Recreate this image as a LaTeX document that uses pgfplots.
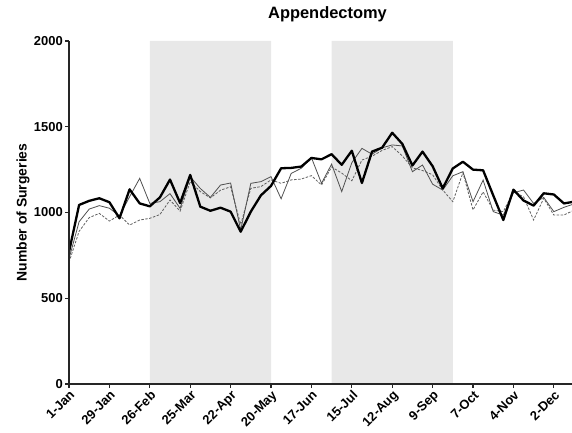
\documentclass[border=0pt]{standalone}
\usepackage{fontspec}
\setmainfont{Liberation Sans}
\usepackage{pgfplots}
\pgfplotsset{compat=1.18}
\usepackage{pgfplotstable}
\definecolor{shade}{HTML}{E8E8E8}
\definecolor{cthin}{HTML}{505050}
\definecolor{cdash}{HTML}{606060}
\pgfplotstableread{
i T S D
0 770 730 710
1 1044 946 890
2 1068 1020 970
3 1083 1040 995
4 1060 1025 950
5 966 980 985
6 1135 1092 927
7 1053 1199 956
8 1036 1053 966
9 1088 1063 988
10 1192 1110 1073
11 1055 1024 1008
12 1219 1209 1180
13 1034 1140 1122
14 1010 1088 1085
15 1028 1160 1130
16 1005 1172 1150
17 888 898 930
18 1005 1170 1141
19 1100 1180 1151
20 1155 1209 1190
21 1258 1080 1170
22 1260 1228 1190
23 1268 1258 1195
24 1318 1320 1215
25 1310 1170 1160
26 1340 1282 1265
27 1278 1122 1230
28 1360 1290 1185
29 1172 1374 1306
30 1355 1340 1328
31 1378 1377 1362
32 1465 1394 1384
33 1400 1388 1330
34 1274 1238 1260
35 1355 1277 1245
36 1270 1165 1220
37 1141 1131 1131
38 1257 1214 1063
39 1296 1238 1232
40 1250 1063 1015
41 1246 1189 1120
42 1100 1005 1014
43 956 985 1005
44 1133 1115 1121
45 1070 1131 1092
46 1040 1053 956
47 1112 1088 1083
48 1105 1005 985
49 1053 1030 985
50 1063 1050 1014
}\data
\begin{document}
\begin{tikzpicture}
\path[use as bounding box] (0,0) rectangle (572bp,433bp);
\begin{axis}[
  at={(69bp,49bp)}, anchor=south west,
  scale only axis, width=503bp, height=343bp,
  xmin=0, xmax=348.6, ymin=0, ymax=2000,
  axis x line*=bottom, axis y line*=left,
  xtick={0,28,...,336},
  xticklabels={1-Jan,29-Jan,26-Feb,25-Mar,22-Apr,20-May,17-Jun,15-Jul,12-Aug,9-Sep,7-Oct,4-Nov,2-Dec},
  ytick={0,500,1000,1500,2000},
  tick align=outside, major tick length=4bp,
  tick style={line width=1.2bp, color=black!85},
  axis line style={line width=1.3bp, color=black!85},
  xticklabel style={rotate=45, anchor=north east, font=\fontsize{13}{14}\selectfont\bfseries, inner sep=1bp},
  yticklabel style={font=\fontsize{13}{14}\selectfont\bfseries, inner sep=2bp},
  /pgf/number format/assume math mode=true,
  /pgf/number format/1000 sep={},
  axis on top,
]
\addplot[fill=shade, draw=none] coordinates {(56,0) (56,2000) (140,2000) (140,0)} \closedcycle;
\addplot[fill=shade, draw=none] coordinates {(182,0) (182,2000) (266,2000) (266,0)} \closedcycle;
\addplot[color=cdash, line width=0.8bp, dash pattern=on 2.5bp off 1.5bp] table[x expr=\thisrow{i}*7, y=D] {\data};
\addplot[color=cthin, line width=0.8bp] table[x expr=\thisrow{i}*7, y=S] {\data};
\addplot[color=black, line width=2.3bp, line join=round] table[x expr=\thisrow{i}*7, y=T] {\data};
\end{axis}
\node[font=\fontsize{16.5}{18}\selectfont\bfseries] at (327.5bp,419bp) {Appendectomy};
\node[rotate=90, font=\fontsize{14}{16}\selectfont\bfseries] at (23bp,220.5bp) {Number of Surgeries};
\end{tikzpicture}
\end{document}
